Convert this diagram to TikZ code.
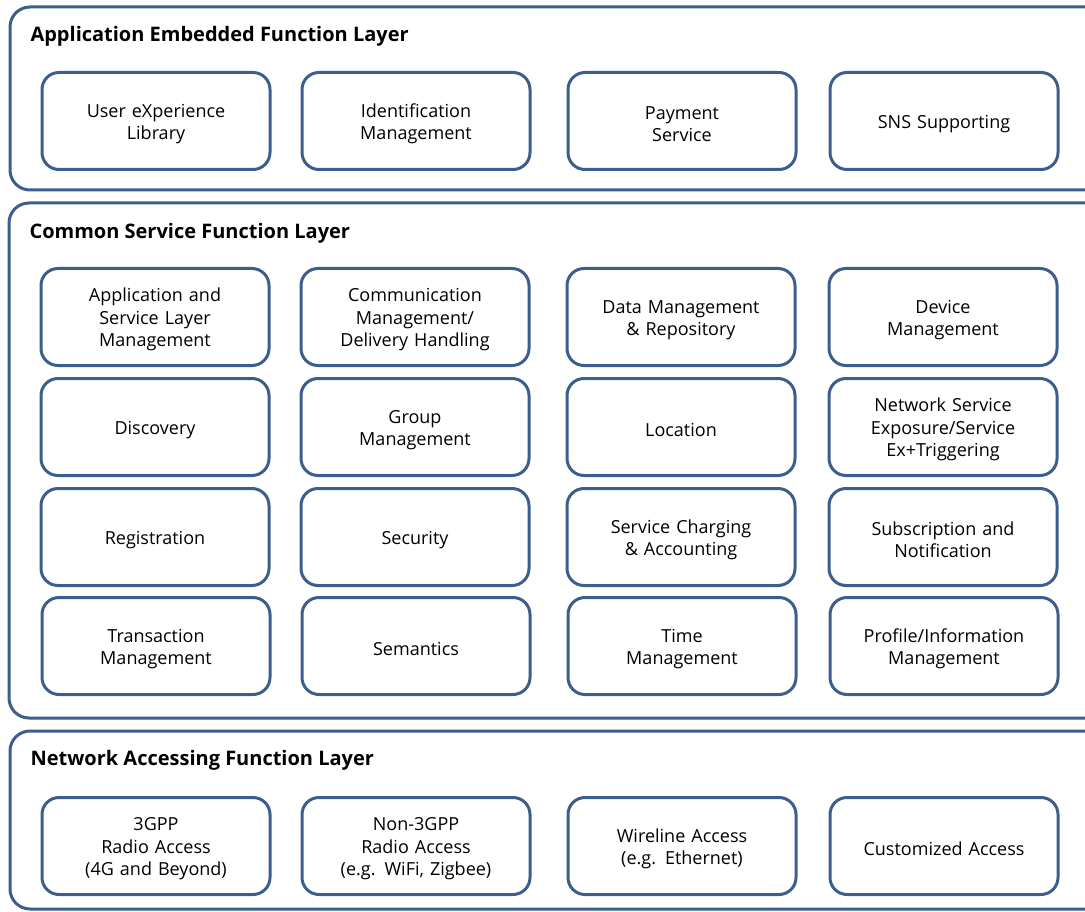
\documentclass[tikz,border=0pt]{standalone}
\usepackage{fontspec}
\setmainfont{Open Sans}
\usetikzlibrary{positioning}
\definecolor{layerblue}{RGB}{59,94,140}
\tikzstyle{layer} = [draw=layerblue, line width=3pt, rounded corners=20pt]
\tikzstyle{func} = [rectangle, rounded corners=17pt, draw=layerblue, line width=3pt, minimum width=228pt, minimum height=97pt, text width=220pt, align=center, font=\fontsize{18}{22.5}\selectfont, execute at begin node={\rule{0pt}{19pt}}]
\tikzstyle{title} = [anchor=west, font=\fontsize{20}{24}\selectfont\bfseries]

\begin{document}
\begin{tikzpicture}[x=1pt, y=-1pt]
%----------------------------------------------------------------------------
% Canvas
\useasboundingbox (0,0) rectangle (1085,912);
\clip (0,0) rectangle (1085,912);

%----------------------------------------------------------------------------
% Layers
\draw [layer] (10,7) rectangle (1110,190);
\draw [layer] (9,203) rectangle (1110,718);
\draw [layer] (10,731) rectangle (1110,909);

\node (appTitle) [title] at (27,36) {Application Embedded Function Layer};
\node (cmnTitle) [title] at (26,233) {Common Service Function Layer};
\node (netTitle) [title] at (27,760) {Network Accessing Function Layer};

%----------------------------------------------------------------------------
% Application embedded functions
\node (userExp) [func] at (156,121) {User eXperience\\Library};
\node (identMgmt) [func] at (416,121) {Identification\\Management};
\node (payment) [func] at (682,121) {Payment\\Service};
\node (snsSupport) [func] at (944,121) {SNS Supporting};

%----------------------------------------------------------------------------
% Common service functions
\node (appSvcMgmt) [func] at (155,317) {Application and\\Service Layer\\Management};
\node (commMgmt) [func] at (415,317) {Communication\\Management/\\Delivery Handling};
\node (dataMgmt) [func] at (681,317) {Data Management\\\& Repository};
\node (deviceMgmt) [func] at (943,317) {Device\\Management};

\node (discovery) [func] at (155,427) {Discovery};
\node (groupMgmt) [func] at (415,427) {Group\\Management};
\node (location) [func] at (681,427) {Location};
\node (netExposure) [func] at (943,427) {Network Service\\Exposure/Service\\Ex+Triggering};

\node (registration) [func] at (155,537) {Registration};
\node (security) [func] at (415,537) {Security};
\node (charging) [func] at (681,537) {Service Charging\\\& Accounting};
\node (subscription) [func] at (943,537) {Subscription and\\Notification};

\node (transMgmt) [func] at (156,646) {Transaction\\Management};
\node (semantics) [func] at (416,646) {Semantics};
\node (timeMgmt) [func] at (682,646) {Time\\Management};
\node (profileMgmt) [func] at (944,646) {Profile/Information\\Management};

%----------------------------------------------------------------------------
% Network accessing functions
\node (gppAccess) [func] at (156,846) {3GPP\\Radio Access\\(4G and Beyond)};
\node (nonGppAccess) [func] at (416,846) {Non-3GPP\\Radio Access\\(e.g. WiFi, Zigbee)};
\node (wireline) [func] at (682,846) {Wireline Access\\(e.g. Ethernet)};
\node (customAccess) [func] at (944,846) {Customized Access};

\end{tikzpicture}
\end{document}
